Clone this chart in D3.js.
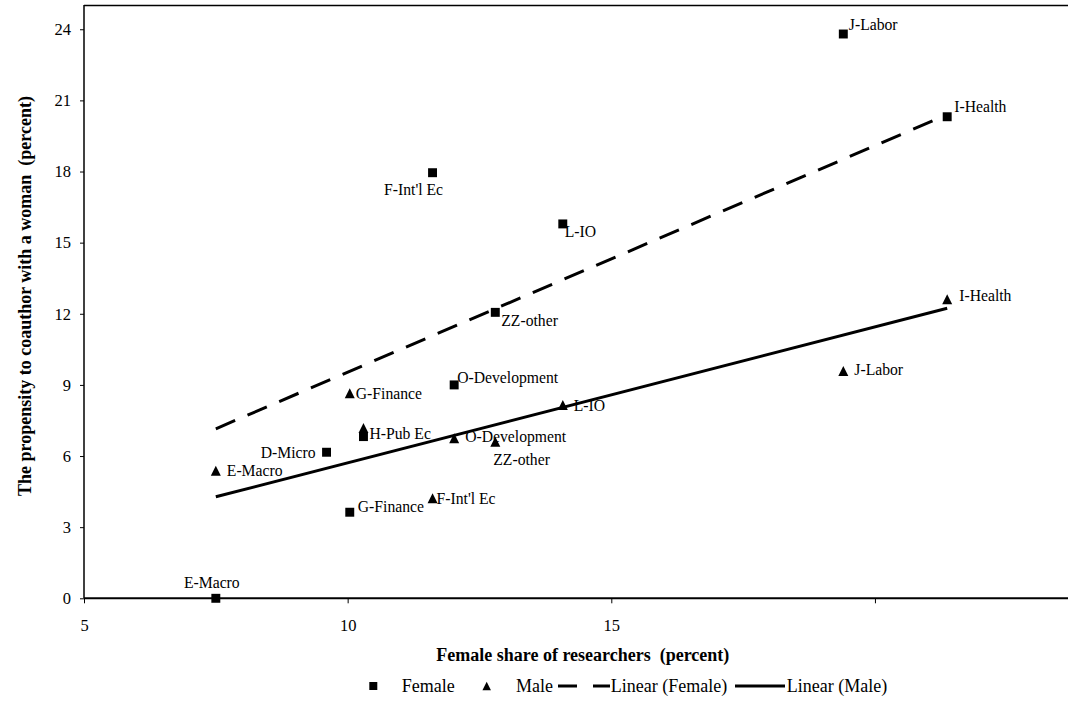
<!DOCTYPE html>
<html>
<head>
<meta charset="utf-8">
<script src="https://cdn.jsdelivr.net/npm/d3@7"></script>
<style>
  body { margin: 0; background: #fff; }
  svg text { font-family: "Liberation Serif", "Times New Roman", serif; fill: #000; }
</style>
</head>
<body>
<div id="chart"></div>
<script>
// Fields (same order for both groups where present)
const femaleFields = ["E-Macro", "D-Micro", "G-Finance", "H-Pub Ec", "F-Int'l Ec", "O-Development", "ZZ-other", "L-IO", "J-Labor", "I-Health"];
const femaleShare = [7.5, 9.6, 10.04, 10.3, 11.61, 12.02, 12.8, 14.08, 19.4, 21.37];
const femaleCoauthor = [0, 6.16, 3.63, 6.82, 17.95, 9.0, 12.06, 15.79, 23.8, 20.31];

const maleFields = ["E-Macro", "G-Finance", "H-Pub Ec", "F-Int'l Ec", "O-Development", "ZZ-other", "L-IO", "J-Labor", "I-Health"];
const maleShare = [7.5, 10.04, 10.3, 11.61, 12.02, 12.8, 14.08, 19.4, 21.37];
const maleCoauthor = [5.38, 8.65, 7.18, 4.22, 6.75, 6.6, 8.15, 9.59, 12.61];

// Linear trend lines (end points)
const trendFemaleX = [7.5, 21.37];
const trendFemaleY = [7.15, 20.4];
const trendMaleX = [7.5, 21.37];
const trendMaleY = [4.28, 12.23];

const xTicks = [5, 10, 15, 20];
const xTickLabels = ["5", "10", "15", ""];
const yTicks = [0, 3, 6, 9, 12, 15, 18, 21, 24];

const legendLabels = ["Female", "Male", "Linear (Female)", "Linear (Male)"];

// label placement: [dx, dy, anchor] relative to the marker
const femaleLabelPos = [
  [-4, -16, "middle"], [-11, 0, "end"], [8, -6, "start"], [6, -3, "start"],
  [-19, 17, "middle"], [3, -7, "start"], [6, 8, "start"], [2, 8, "start"],
  [5.5, -9, "start"], [7, -10, "start"]
];
const maleLabelPos = [
  [11, 0, "start"], [6, 0, "start"], null, [4, 0, "start"],
  [11, -1.5, "start"], [-2, 18, "start"], [11, 0, "start"],
  [11, -1, "start"], [12, -4, "start"]
];

const W = 1068;
const H = 703;

const svg = d3.select("#chart").append("svg")
  .attr("width", W)
  .attr("height", H);

const x = d3.scaleLinear().domain([5, 25]).range([84, 84 + 20 * 52.73]);
const y = d3.scaleLinear().domain([0, 25]).range([598.3, 5.55]);

// frame lines
svg.append("line").attr("x1", 84).attr("x2", W).attr("y1", 5.5).attr("y2", 5.5)
  .attr("stroke", "#000").attr("stroke-width", 1.5);
svg.append("line").attr("x1", 84).attr("x2", 84).attr("y1", 5).attr("y2", y(0))
  .attr("stroke", "#000").attr("stroke-width", 1.5);
svg.append("line").attr("x1", 84).attr("x2", W).attr("y1", y(0)).attr("y2", y(0))
  .attr("stroke", "#000").attr("stroke-width", 2);

// axes
const xAxis = svg.append("g")
  .attr("transform", "translate(0," + y(0) + ")")
  .call(d3.axisBottom(x).tickValues(xTicks).tickSize(5).tickPadding(16)
    .tickSizeOuter(0).tickFormat((d, i) => xTickLabels[i]));
xAxis.select(".domain").remove();
xAxis.selectAll("text").attr("font-size", "16.5px").style("font-family", "'Liberation Serif', serif");
xAxis.selectAll("line").attr("stroke", "#000");

const yAxis = svg.append("g")
  .attr("transform", "translate(84,0)")
  .call(d3.axisLeft(y).tickValues(yTicks).tickSize(4).tickPadding(9).tickSizeOuter(0));
yAxis.select(".domain").remove();
yAxis.selectAll("text").attr("font-size", "16.5px").style("font-family", "'Liberation Serif', serif");
yAxis.selectAll("line").attr("stroke", "#000");

// axis titles
svg.append("text")
  .attr("x", 582.8).attr("y", 655).attr("dy", "0.35em")
  .attr("text-anchor", "middle")
  .attr("font-size", "18px").attr("font-weight", "bold")
  .style("white-space", "pre")
  .text("Female share of researchers  (percent)");

svg.append("text")
  .attr("transform", "translate(25,296) rotate(-90)")
  .attr("dy", "0.35em")
  .attr("text-anchor", "middle")
  .attr("font-size", "18px").attr("font-weight", "bold")
  .style("white-space", "pre")
  .text("The propensity to coauthor with a woman  (percent)");

// trend lines
const line = d3.line().x((d) => x(d[0])).y((d) => y(d[1]));
svg.append("path")
  .datum(d3.zip(trendFemaleX, trendFemaleY))
  .attr("d", line)
  .attr("fill", "none").attr("stroke", "#000").attr("stroke-width", 3)
  .attr("stroke-dasharray", "21,13.5");
svg.append("path")
  .datum(d3.zip(trendMaleX, trendMaleY))
  .attr("d", line)
  .attr("fill", "none").attr("stroke", "#000").attr("stroke-width", 3);

// points: square and a tall triangle (as high as it is wide)
const square = d3.symbol().type(d3.symbolSquare).size(80);
const tallTriangle = {
  draw(ctx, size) {
    const s = Math.sqrt(size) / 2;
    ctx.moveTo(0, -s);
    ctx.lineTo(s, s);
    ctx.lineTo(-s, s);
    ctx.closePath();
  }
};
const triangle = d3.symbol().type(tallTriangle).size(100);

const female = femaleFields.map((f, i) => ({ name: f, x: femaleShare[i], y: femaleCoauthor[i], lp: femaleLabelPos[i] }));
const male = maleFields.map((f, i) => ({ name: f, x: maleShare[i], y: maleCoauthor[i], lp: maleLabelPos[i] }));

svg.append("g").selectAll("path").data(female).enter().append("path")
  .attr("d", square)
  .attr("transform", (d) => "translate(" + x(d.x) + "," + y(d.y) + ")")
  .attr("fill", "#000");

svg.append("g").selectAll("path").data(male).enter().append("path")
  .attr("d", triangle)
  .attr("transform", (d) => "translate(" + x(d.x) + "," + y(d.y) + ")")
  .attr("fill", "#000");

// point labels
const allPts = female.concat(male).filter((d) => d.lp);
svg.append("g").selectAll("text").data(allPts).enter().append("text")
  .attr("x", (d) => x(d.x) + d.lp[0])
  .attr("y", (d) => y(d.y) + d.lp[1])
  .attr("dy", "0.35em")
  .attr("text-anchor", (d) => d.lp[2])
  .attr("font-size", "15.7px")
  .text((d) => d.name);

// legend
const LEGEND_Y = 686;
const legend = svg.append("g").attr("transform", "translate(0," + LEGEND_Y + ")");
legend.append("path").attr("d", d3.symbol().type(d3.symbolSquare).size(64))
  .attr("transform", "translate(373.3,0)");
legend.append("path").attr("d", d3.symbol().type(tallTriangle).size(72))
  .attr("transform", "translate(486.7,0)");
legend.append("line").attr("x1", 558).attr("x2", 610).attr("y1", 0).attr("y2", 0)
  .attr("stroke", "#000").attr("stroke-width", 3).attr("stroke-dasharray", "19,16");
legend.append("line").attr("x1", 735).attr("x2", 785).attr("y1", 0).attr("y2", 0)
  .attr("stroke", "#000").attr("stroke-width", 3);

const legendTextX = [401.7, 516, 610.7, 786.7];
legend.selectAll("text").data(legendLabels).enter().append("text")
  .attr("x", (d, i) => legendTextX[i])
  .attr("dy", "0.35em")
  .attr("font-size", "18px")
  .text((d) => d);
</script>
</body>
</html>
